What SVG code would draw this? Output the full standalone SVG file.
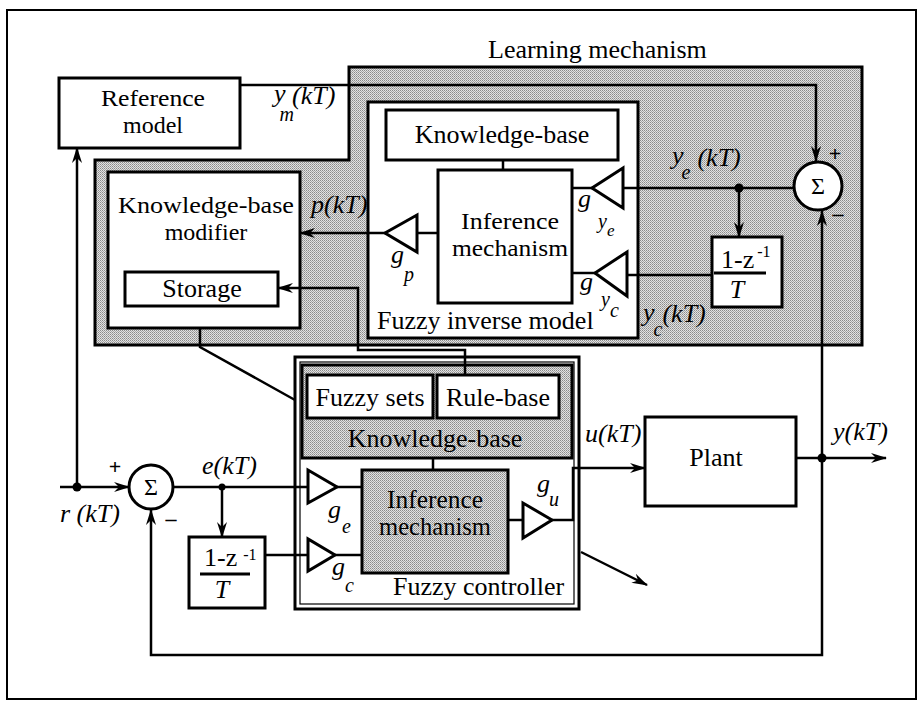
<svg xmlns="http://www.w3.org/2000/svg" width="923" height="702" viewBox="0 0 923 702">
<defs>
<pattern id="stip" width="2" height="2" patternUnits="userSpaceOnUse">
<rect width="2" height="2" fill="#e2e2e2"/>
<rect width="1" height="1" fill="#8a8a8a"/>
<rect x="1" y="1" width="1" height="1" fill="#a6a6a6"/>
</pattern>
<marker id="arr" viewBox="0 0 16 10" refX="15" refY="5" markerWidth="16" markerHeight="10" markerUnits="userSpaceOnUse" orient="auto">
<path d="M0,0 L16,5 L0,10 L5,5 Z" fill="#000"/>
</marker>
</defs>
<style>
.box{fill:#fff;stroke:#000;stroke-width:3}
.sh{fill:url(#stip);stroke:#000;stroke-width:3}
.ln{fill:none;stroke:#000;stroke-width:2.5}
.tri{fill:#fff;stroke:#000;stroke-width:3;stroke-linejoin:miter}
text{font-family:'Liberation Serif','DejaVu Serif',serif}
.t{font-size:26px;fill:#000}
.t2{font-size:24px;fill:#000}
.c{text-anchor:middle}
.i{font-style:italic;font-size:26px;fill:#000}
.s{font-style:italic;font-size:20px;fill:#000}
.sg{font-size:24px;fill:#000;text-anchor:middle}
.pm{font-weight:bold;font-size:22px;fill:#000;text-anchor:middle}
</style>
<rect x="0" y="0" width="923" height="702" fill="#fff"/>
<rect x="7" y="10" width="909" height="689" fill="none" stroke="#000" stroke-width="2"/>

<g id="learning-mechanism">
<path class="sh" d="M349,67 H862 V345 H95 V160 H349 Z"/>
<text class="t" x="488" y="58">Learning mechanism</text>
</g>

<g id="reference-model">
<rect class="box" x="59" y="78" width="181" height="70"/>
<text class="t2 c" x="153" y="106" textLength="104" lengthAdjust="spacingAndGlyphs">Reference</text>
<text class="t2 c" x="153" y="133">model</text>
</g>

<g id="kb-modifier">
<rect class="box" x="108" y="172" width="192" height="156"/>
<text class="t2 c" x="206" y="213" textLength="176" lengthAdjust="spacingAndGlyphs">Knowledge-base</text>
<text class="t2 c" x="206" y="240">modifier</text>
</g>
<g id="storage">
<rect class="box" x="125" y="272" width="153" height="34"/>
<text class="t c" x="202" y="297">Storage</text>
</g>

<g id="fuzzy-inverse-model">
<rect class="box" x="368" y="102" width="270" height="236"/>
<text class="t" x="377" y="329">Fuzzy inverse model</text>
</g>
<g id="inv-knowledge-base">
<rect class="box" x="386" y="110" width="232" height="50"/>
<text class="t c" x="502" y="143">Knowledge-base</text>
</g>
<g id="inv-inference">
<rect class="box" x="438" y="170" width="134" height="133"/>
<text class="t2 c" x="510" y="229" textLength="98" lengthAdjust="spacingAndGlyphs">Inference</text>
<text class="t2 c" x="510" y="256" textLength="116" lengthAdjust="spacingAndGlyphs">mechanism</text>
</g>

<g id="gain-p">
<polygon class="tri" points="417,215 417,252 385,233"/>
<text class="i" x="391" y="263">g<tspan class="s" dx="0" dy="18">p</tspan></text>
</g>
<g id="gain-ye">
<polygon class="tri" points="623,168 623,208 592,188"/>
<text class="i" x="578" y="207">g</text>
<text class="s" x="598" y="228">y<tspan dy="8" font-size="17">e</tspan></text>
</g>
<g id="gain-yc">
<polygon class="tri" points="627,252 627,296 595,273"/>
<text class="i" x="580" y="290">g</text>
<text class="s" x="601" y="306">y<tspan dy="11">c</tspan></text>
</g>

<g id="sum-upper">
<circle cx="818" cy="186" r="24" fill="#fff" stroke="#000" stroke-width="3"/>
<text class="sg" x="818" y="194">Σ</text>
<text class="pm" x="835" y="161">+</text>
<text class="pm" x="838" y="221">–</text>
</g>

<g id="diff-upper">
<rect class="box" x="712" y="237" width="70" height="70"/>
<text class="t" x="721" y="268" font-size="22">1-z<tspan font-size="16" dx="3" dy="-11">-1</tspan></text>
<line x1="714" y1="273" x2="766" y2="273" stroke="#000" stroke-width="3"/>
<text class="i c" x="737" y="298" font-size="23">T</text>
</g>

<g id="fuzzy-controller">
<rect class="box" x="295" y="357" width="284" height="252"/>
<rect x="300" y="362" width="274" height="242" fill="none" stroke="#000" stroke-width="1.2"/>
<text class="t" x="393" y="595">Fuzzy controller</text>
</g>
<g id="fc-knowledge-base">
<rect class="sh" x="302" y="365" width="270" height="93"/>
<text class="t c" x="435" y="447">Knowledge-base</text>
</g>
<g id="fuzzy-sets">
<rect class="box" x="307" y="375" width="126" height="43"/>
<text class="t c" x="370" y="406">Fuzzy sets</text>
</g>
<g id="rule-base">
<rect class="box" x="437" y="375" width="122" height="43"/>
<text class="t c" x="498" y="406">Rule-base</text>
</g>
<g id="fc-inference">
<rect class="sh" x="362" y="470" width="146" height="103"/>
<text class="t c" x="435" y="508" font-size="22" textLength="96" lengthAdjust="spacingAndGlyphs">Inference</text>
<text class="t c" x="435" y="535" font-size="22" textLength="112" lengthAdjust="spacingAndGlyphs">mechanism</text>
</g>
<g id="gain-e">
<polygon class="tri" points="308,470 308,503 337,487"/>
<text class="i" x="328" y="518">g<tspan class="s" dx="1" dy="15">e</tspan></text>
</g>
<g id="gain-c">
<polygon class="tri" points="308,539 308,571 335,555"/>
<text class="i" x="332" y="575">g<tspan class="s" dx="0" dy="17">c</tspan></text>
</g>
<g id="gain-u">
<polygon class="tri" points="523,503 523,538 552,520"/>
<text class="i" x="537" y="492">g<tspan class="s" dx="-1" dy="14">u</tspan></text>
</g>

<g id="sum-lower">
<circle cx="151" cy="487" r="22" fill="#fff" stroke="#000" stroke-width="3"/>
<text class="sg" x="151" y="495">Σ</text>
<text class="pm" x="115" y="474">+</text>
<text class="pm" x="171" y="526">–</text>
</g>

<g id="diff-lower">
<rect class="box" x="189" y="537" width="76" height="71"/>
<text class="t" x="204" y="566" font-size="22">1-z<tspan font-size="16" dx="6" dy="-6">-1</tspan></text>
<line x1="200" y1="574" x2="250" y2="574" stroke="#000" stroke-width="3"/>
<text class="i c" x="222" y="598" font-size="23">T</text>
</g>

<g id="plant">
<rect class="box" x="645" y="417" width="151" height="89"/>
<text class="t c" x="716" y="466">Plant</text>
</g>

<g id="connectors">
<path class="ln" d="M240,85 H816 V161" marker-end="url(#arr)"/>
<path class="ln" d="M822,458 V211" marker-end="url(#arr)"/>
<path class="ln" d="M822,458 V655 H151 V510" marker-end="url(#arr)"/>
<path class="ln" d="M794,188 H623"/>
<path class="ln" d="M739,188 V237" marker-end="url(#arr)"/>
<path class="ln" d="M712,275 H627"/>
<path class="ln" d="M595,273 H572"/>
<path class="ln" d="M592,188 H572"/>
<path class="ln" d="M438,233 H417"/>
<path class="ln" d="M385,233 H300" marker-end="url(#arr)"/>
<path class="ln" d="M503,160 V170"/>
<path class="ln" d="M465,375 V350 H358 V288 H278" marker-end="url(#arr)"/>
<path class="ln" d="M200,328 V347 L295,400"/>
<path class="ln" d="M77,487 V148" marker-end="url(#arr)"/>
<path class="ln" d="M60,487 H129" marker-end="url(#arr)"/>
<path class="ln" d="M173,487 H308"/>
<path class="ln" d="M222,487 V537" marker-end="url(#arr)"/>
<path class="ln" d="M265,555 H308"/>
<path class="ln" d="M337,487 H362"/>
<path class="ln" d="M335,555 H362"/>
<path class="ln" d="M433,458 V470"/>
<path class="ln" d="M508,520 H523"/>
<path class="ln" d="M552,520 H573 V468 H645" marker-end="url(#arr)"/>
<path class="ln" d="M796,458 H886" marker-end="url(#arr)"/>
<path class="ln" d="M581,552 L647,585" marker-end="url(#arr)"/>
<circle cx="77" cy="487" r="4.5" fill="#000"/>
<circle cx="222" cy="487" r="3.5" fill="#000"/>
<circle cx="739" cy="188" r="4.5" fill="#000"/>
<circle cx="822" cy="458" r="4.5" fill="#000"/>
</g>

<g id="labels">
<text class="i" x="274" y="102">y<tspan class="s" dx="-6" dy="19">m</tspan><tspan dx="-2" dy="-17">(kT)</tspan></text>
<text class="i" x="311" y="213">p(kT)</text>
<text class="i" x="672" y="164">y<tspan class="s" dx="-2" dy="15">e</tspan><tspan dx="7" dy="-13">(kT)</tspan></text>
<text class="i" x="643" y="321">y<tspan class="s" dx="-1" dy="15">c</tspan><tspan dx="0" dy="-14">(kT)</tspan></text>
<text class="i" x="585" y="442">u(kT)</text>
<text class="i" x="833" y="440">y(kT)</text>
<text class="i" x="202" y="474">e(kT)</text>
<text class="i" x="60" y="522">r (kT)</text>
</g>
</svg>
